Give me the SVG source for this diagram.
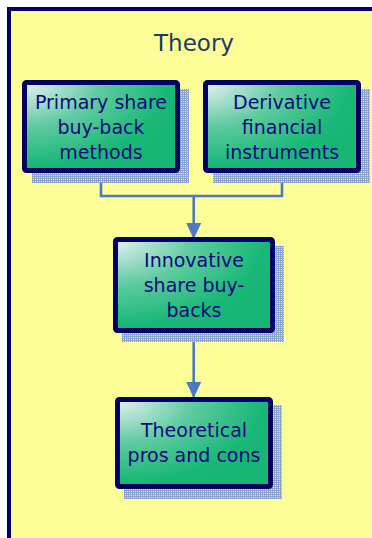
<svg xmlns="http://www.w3.org/2000/svg" width="372" height="538" viewBox="0 0 372 538">
<style>
.box{stroke:#000066;stroke-width:5;fill:url(#g)}
.sh{fill:url(#hatch)}
.t{font-family:"DejaVu Sans",Verdana,sans-serif;font-size:19px;fill:#0a0a7a;text-anchor:middle}
.c{stroke:#4d7ac6;stroke-width:2.6;fill:none}
</style>
<defs>
<radialGradient id="g" cx="0" cy="0" r="1.1" gradientUnits="objectBoundingBox">
<stop offset="0" stop-color="#e6f1f6"/>
<stop offset="0.45" stop-color="#5fcba0"/>
<stop offset="0.85" stop-color="#1ab878"/>
<stop offset="1" stop-color="#18b676"/>
</radialGradient>
<pattern id="hatch" width="2" height="2" patternUnits="userSpaceOnUse">
<rect width="2" height="2" fill="#8ca2d2"/>
<rect x="1" y="1" width="1" height="1" fill="#e4e6bc"/>
</pattern>
<marker id="arr" markerWidth="16" markerHeight="16" refX="15" refY="8" orient="auto" markerUnits="userSpaceOnUse" viewBox="0 0 16 16">
<path d="M0,0.5 L16,8 L0,15.5 Z" fill="#4d7ac6"/>
</marker>
</defs>
<rect x="0" y="0" width="372" height="538" fill="#ffffff"/>
<rect x="9" y="9" width="420" height="600" fill="#ffff99" stroke="#000066" stroke-width="4"/>
<text x="194" y="51" font-family="DejaVu Sans,Verdana,sans-serif" font-size="23" fill="#1b3a66" text-anchor="middle">Theory</text>
<g id="connectors">
<path class="c" d="M101,173 V196 H282 V173"/>
<path class="c" d="M193.7,196 V238" marker-end="url(#arr)"/>
<path class="c" d="M193.7,333 V397" marker-end="url(#arr)"/>
</g>
<g id="primary">
<rect class="sh" x="32" y="89" width="157" height="94"/>
<rect class="box" x="24.5" y="82.5" width="153" height="88" rx="2"/>
<text class="t" x="101" y="108.5">Primary share</text>
<text class="t" x="101" y="133.5">buy-back</text>
<text class="t" x="101" y="158.5">methods</text>
</g>
<g id="derivative">
<rect class="sh" x="213" y="89" width="157" height="94"/>
<rect class="box" x="205.5" y="82.5" width="153" height="88" rx="2"/>
<text class="t" x="282" y="108.5">Derivative</text>
<text class="t" x="282" y="133.5">financial</text>
<text class="t" x="282" y="158.5">instruments</text>
</g>
<g id="innovative">
<rect class="sh" x="122" y="246" width="162" height="96"/>
<rect class="box" x="115.5" y="239.5" width="157" height="91" rx="2"/>
<text class="t" x="194" y="266.5">Innovative</text>
<text class="t" x="194" y="291.5">share buy-</text>
<text class="t" x="194" y="316.5">backs</text>
</g>
<g id="pros">
<rect class="sh" x="124" y="405" width="158" height="94"/>
<rect class="box" x="117.5" y="399.5" width="153" height="87" rx="2"/>
<text class="t" x="194" y="437">Theoretical</text>
<text class="t" x="194" y="461.5">pros and cons</text>
</g>
</svg>
